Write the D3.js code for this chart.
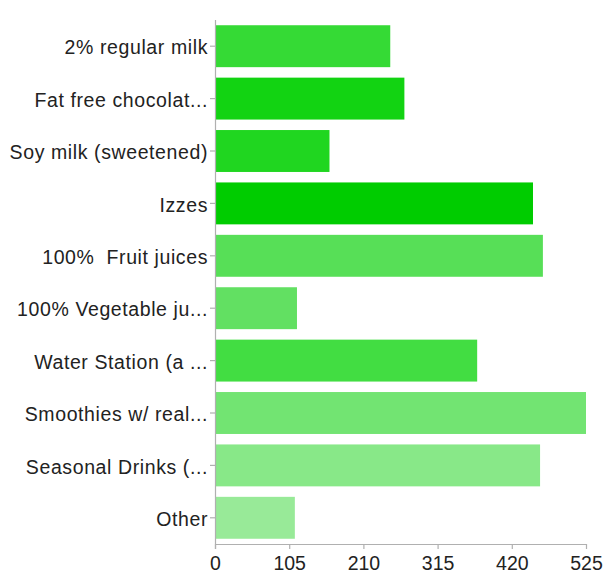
<!DOCTYPE html>
<html>
<head>
<meta charset="utf-8">
<script src="https://cdn.jsdelivr.net/npm/d3@7"></script>
<style>
  html, body { margin: 0; padding: 0; background: #fff; }
  svg text { font-family: "Liberation Sans", Arial, Helvetica, sans-serif; white-space: pre; }
</style>
</head>
<body>
<svg id="chart" width="604" height="577"></svg>
<script>
// Drink choices and response counts
const categories = [
  "2% regular milk",
  "Fat free chocolat...",
  "Soy milk (sweetened)",
  "Izzes",
  "100%  Fruit juices",
  "100% Vegetable ju...",
  "Water Station (a ...",
  "Smoothies w/ real...",
  "Seasonal Drinks (...",
  "Other"
];
const counts = [248, 268, 162, 450, 464, 116, 371, 525, 460, 113];
const barColors = [
  "#35da35", "#12d312", "#20d620", "#00cc00", "#57df57",
  "#62e062", "#42dd42", "#72e472", "#88e888", "#98ea98"
];
const xTicks = [0, 105, 210, 315, 420, 525];

const svg = d3.select("#chart");
const margin = { left: 215, right: 18, top: 20, bottom: 33 };
const W = 604, H = 577;

const x = d3.scaleLinear().domain([0, 525]).range([margin.left, W - margin.right]);
const y = d3.scaleBand().domain(categories).range([margin.top, H - margin.bottom])
  .paddingInner(0.2).paddingOuter(0.1);

// Bars
svg.append("g").selectAll("rect")
  .data(categories)
  .join("rect")
  .attr("x", x(0))
  .attr("y", d => y(d))
  .attr("width", (d, i) => x(counts[i]) - x(0))
  .attr("height", y.bandwidth())
  .attr("fill", (d, i) => barColors[i]);

// X axis
const xAxis = svg.append("g")
  .attr("transform", `translate(0,${H - margin.bottom})`)
  .call(d3.axisBottom(x).tickValues(xTicks).tickSize(5).tickSizeOuter(0).tickPadding(7));
xAxis.select(".domain").attr("stroke", "#b0b0b0").attr("stroke-width", 1.2);
xAxis.selectAll(".tick line").attr("stroke", "#b0b0b0").attr("stroke-width", 1.2);
xAxis.selectAll(".tick text")
  .attr("fill", "#222")
  .style("font-size", "19.5px")
  .style("font-family", "'Liberation Sans', Arial, sans-serif");

// Y axis
const yAxis = svg.append("g")
  .attr("transform", `translate(${margin.left},0)`)
  .call(d3.axisLeft(y).tickSize(5).tickSizeOuter(0).tickPadding(2));
yAxis.select(".domain").attr("stroke", "#b0b0b0").attr("stroke-width", 1.2)
  .attr("d", `M0.5,${margin.top}V${H - margin.bottom + 5}`);
yAxis.selectAll(".tick line").attr("stroke", "#b0b0b0").attr("stroke-width", 1.2);
yAxis.selectAll(".tick text")
  .attr("fill", "#222")
  .attr("dy", "0.42em")
  .style("font-size", "19.5px")
  .style("letter-spacing", "0.6px")
  .style("font-family", "'Liberation Sans', Arial, sans-serif");
</script>
</body>
</html>
